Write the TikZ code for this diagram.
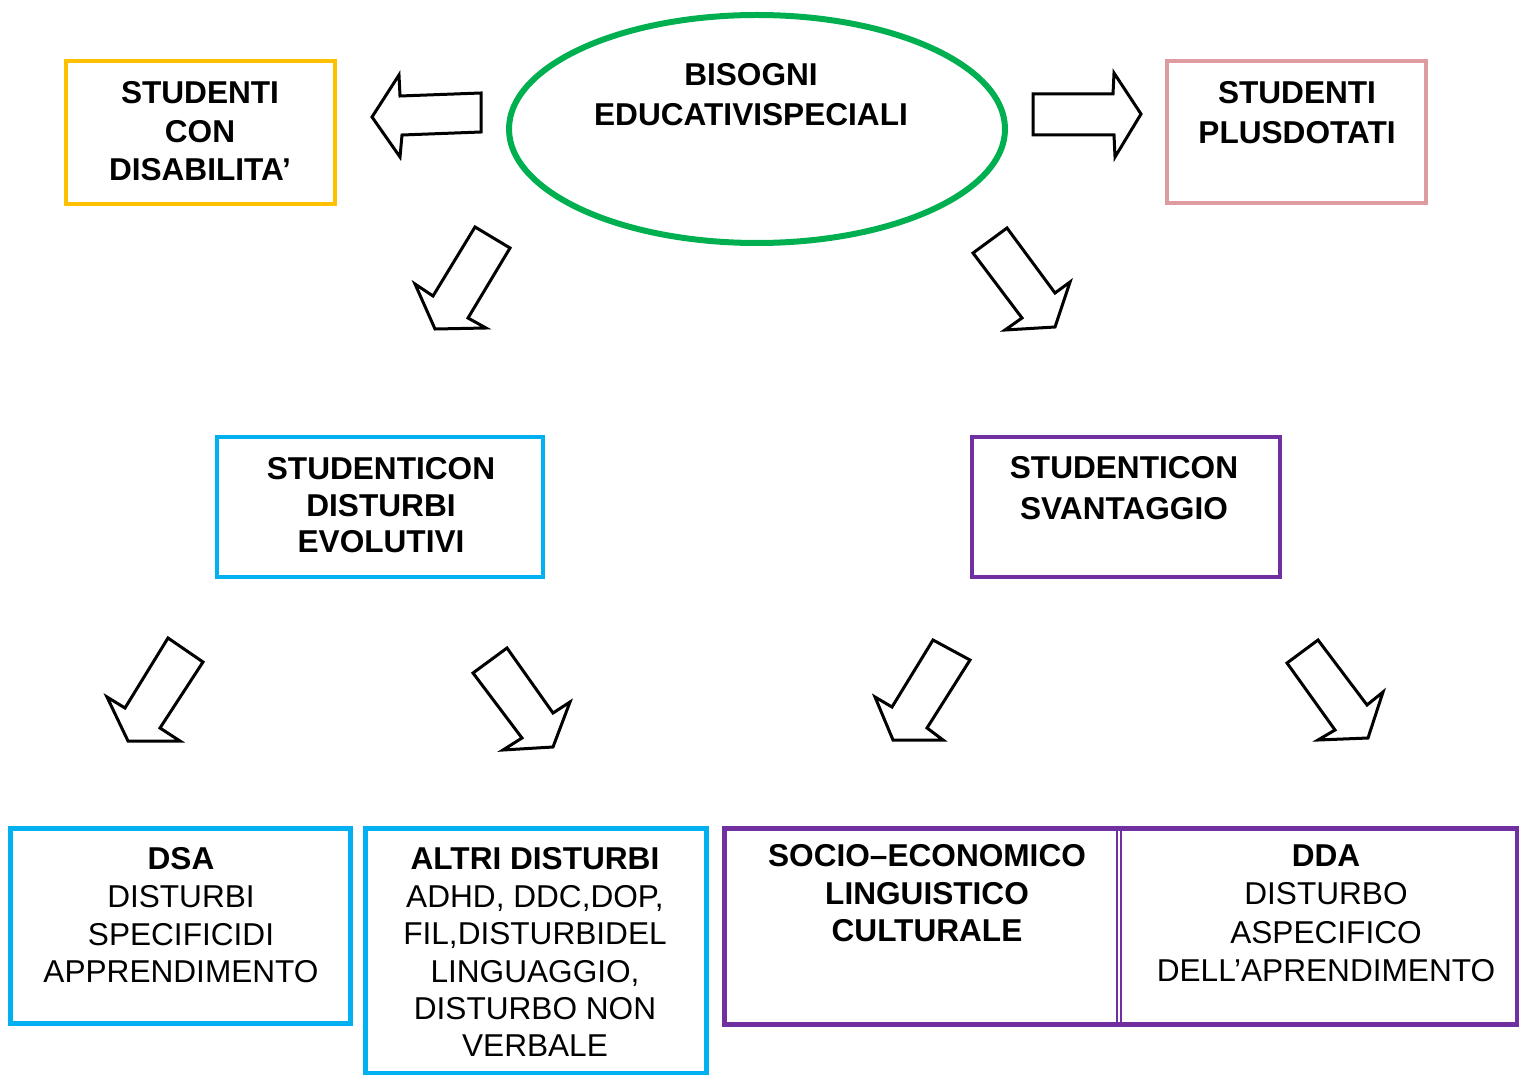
\documentclass[tikz,border=0pt]{standalone}
\usepackage{fontspec}
\setmainfont{Liberation Sans}
\usetikzlibrary{shapes.geometric}
\definecolor{cOrange}{HTML}{FFC000}
\definecolor{cGreen}{HTML}{00B050}
\definecolor{cPink}{HTML}{DE9BA0}
\definecolor{cBlue}{HTML}{00B0F0}
\definecolor{cPurple}{HTML}{7030A0}
\begin{document}
\begin{tikzpicture}[x=0.5pt,y=-0.5pt,
  frame/.style={draw, inner sep=0pt, line width=2pt},
  framebig/.style={draw, inner sep=0pt, line width=2.5pt},
  rtxt/.style={font=\fontsize{15.8}{#1}\selectfont, align=center, inner sep=0pt, anchor=north},
  btxt/.style={font=\fontsize{15.8}{#1}\selectfont\bfseries, align=center, inner sep=0pt, anchor=north},
  blockarrow/.style={draw=black, fill=white, line width=1.5pt, line join=miter}]
\useasboundingbox (0,0) rectangle (1519,1075);

% top row
\node[frame, draw=cOrange, minimum width=134.5pt, minimum height=71.5pt] (dis) at (200.5,132.5) {};
\node[btxt=19.25pt] (distxt) at (200,81.5) {STUDENTI\\CON\\DISABILITA’};

\node[ellipse, draw=cGreen, line width=3pt, inner sep=0pt, minimum width=248pt, minimum height=114pt] (bes) at (757,129) {};
\node[btxt=20pt] (bestxt) at (751,63.5) {BISOGNI\\EDUCATIVISPECIALI};

\node[frame, draw=cPink, minimum width=129.5pt, minimum height=71pt] (plus) at (1296.5,132) {};
\node[btxt=20pt] (plustxt) at (1297,81.5) {STUDENTI\\PLUSDOTATI};

% middle row
\node[frame, draw=cBlue, minimum width=163pt, minimum height=70pt] (evo) at (380,507) {};
\node[btxt=18.25pt] (evotxt) at (381,457.5) {STUDENTICON\\DISTURBI\\EVOLUTIVI};

\node[frame, draw=cPurple, minimum width=154pt, minimum height=70pt] (sva) at (1126,507) {};
\node[btxt=20.5pt] (svatxt) at (1124,456.5) {STUDENTICON\\SVANTAGGIO};

% bottom row
\node[framebig, draw=cBlue, minimum width=170pt, minimum height=97.5pt] (dsa) at (180,925.5) {};
\node[rtxt=18.8pt] (dsatxt) at (181,847.5) {\textbf{DSA}\\DISTURBI\\SPECIFICIDI\\APPRENDIMENTO};

\node[framebig, draw=cBlue, minimum width=170.5pt, minimum height=122.5pt] (alt) at (535.5,950.5) {};
\node[rtxt=18.7pt] (alttxt) at (535,847.5) {\textbf{ALTRI DISTURBI}\\ADHD, DDC,DOP,\\FIL,DISTURBIDEL\\LINGUAGGIO,\\DISTURBO NON\\VERBALE};

\node[framebig, draw=cPurple, minimum width=396.5pt, minimum height=98pt] (soc) at (1120.5,926) {};
\draw[cPurple, line width=1pt] ([xshift=-2pt]soc.north) -- ([xshift=-2pt]soc.south);
\draw[cPurple, line width=1pt] ([xshift=0pt]soc.north) -- ([xshift=0pt]soc.south);
\node[btxt=18.75pt] (soctxt) at (927,844.5) {SOCIO–ECONOMICO\\LINGUISTICO\\CULTURALE};
\node[rtxt=19.15pt] (ddatxt) at (1326,844.5) {\textbf{DDA}\\DISTURBO\\ASPECIFICO\\DELL’APRENDIMENTO};

% block arrows
\draw[blockarrow] (372,117) -- (399,75) -- (400,96) -- (481,93) -- (481,132) -- (402,135) -- (400,157) -- cycle;
\draw[blockarrow] (1033,94) -- (1113,94) -- (1114,73) -- (1141,114) -- (1115,157) -- (1114,135) -- (1033,135) -- cycle;
\draw[blockarrow] (475,227) -- (510,248) -- (468,318) -- (486,328) -- (435,329) -- (415,284) -- (433,296) -- cycle;
\draw[blockarrow] (973,253) -- (1007,228) -- (1055,293) -- (1070,282) -- (1055,327) -- (1005,330) -- (1022,318) -- cycle;
\draw[blockarrow] (168,638) -- (203,662) -- (160,728) -- (180,741) -- (128,741) -- (107,697) -- (125,708) -- cycle;
\draw[blockarrow] (473,673) -- (507,648) -- (553,713) -- (570,702) -- (553,747) -- (503,750) -- (522,738) -- cycle;
\draw[blockarrow] (933,640) -- (970,660) -- (927,728) -- (943,740) -- (893,740) -- (875,697) -- (892,707) -- cycle;
\draw[blockarrow] (1287,663) -- (1318,640) -- (1367,705) -- (1383,692) -- (1368,738) -- (1318,740) -- (1335,730) -- cycle;
\end{tikzpicture}
\end{document}
